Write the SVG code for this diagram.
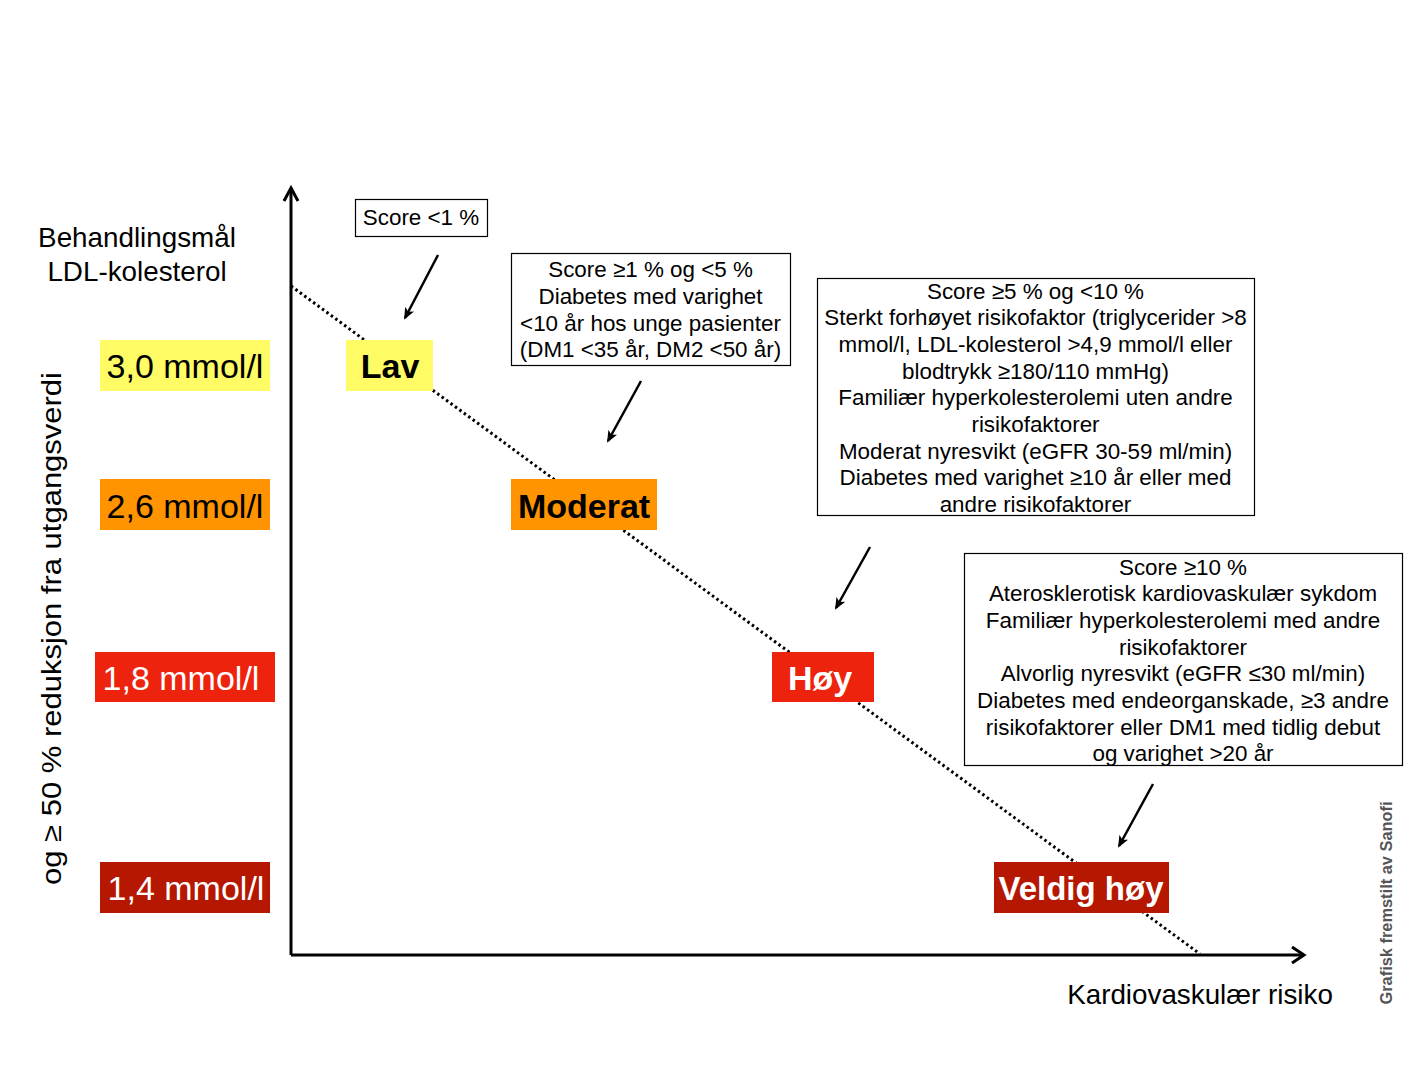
<svg xmlns="http://www.w3.org/2000/svg" width="1417" height="1065" viewBox="0 0 1417 1065">
<style>
text{font-family:"Liberation Sans",Arial,Helvetica,sans-serif;fill:#000}
.val{font-size:34px}
.lvl{font-size:34px;font-weight:bold}
.w{fill:#fff}
.box{fill:#fff;stroke:#000;stroke-width:1.2}
.bt{font-size:22.4px;text-anchor:middle}
.ax{stroke:#000;stroke-width:3;fill:none}
.arr{stroke:#000;stroke-width:2.5;fill:none;marker-end:url(#ah)}
.yel{fill:#FFFB64}.ora{fill:#FF9300}.red{fill:#EE230E}.dred{fill:#B51700}
</style>
<defs>
<marker id="ah" viewBox="0 0 12 10" refX="10" refY="5" markerWidth="12" markerHeight="10" markerUnits="userSpaceOnUse" orient="auto">
<path d="M0,0 L12,5 L0,10 L3,5 Z" fill="#000"/>
</marker>
</defs>
<rect width="1417" height="1065" fill="#fff"/>

<g id="connectors">
<line x1="291" y1="286" x2="1200" y2="954" stroke="#000" stroke-width="3" stroke-dasharray="2.5 3"/>
<polyline class="ax" points="291,955 291,188"/>
<polyline class="ax" points="284,201 291,188 298,201"/>
<polyline class="ax" points="291,955 1304,955"/>
<polyline class="ax" points="1292,947 1304,955 1292,963"/>
<line class="arr" x1="438" y1="255" x2="405" y2="318"/>
<line class="arr" x1="641" y1="381" x2="608" y2="441"/>
<line class="arr" x1="870" y1="547" x2="836" y2="608"/>
<line class="arr" x1="1153" y1="784" x2="1119" y2="846"/>
</g>

<g id="axis-labels">
<text x="137" y="247" font-size="27.8" text-anchor="middle">Behandlingsmål</text>
<text x="137" y="281" font-size="27.8" text-anchor="middle">LDL-kolesterol</text>
<text transform="translate(61,628.5) rotate(-90)" font-size="27" text-anchor="middle" textLength="513" lengthAdjust="spacingAndGlyphs">og ≥ 50 % reduksjon fra utgangsverdi</text>
<text x="1200" y="1004" font-size="27.8" text-anchor="middle">Kardiovaskulær risiko</text>
<text transform="translate(1392,903) rotate(-90)" font-size="16.4" font-weight="bold" text-anchor="middle" style="fill:#555">Grafisk fremstilt av Sanofi</text>
</g>

<g id="val-30"><rect class="yel" x="100" y="340" width="170" height="51"/><text class="val" x="185" y="378" text-anchor="middle">3,0 mmol/l</text></g>
<g id="val-26"><rect class="ora" x="100" y="479" width="170" height="51"/><text class="val" x="185" y="518" text-anchor="middle">2,6 mmol/l</text></g>
<g id="val-18"><rect class="red" x="95" y="652" width="180" height="50"/><text class="val w" x="181" y="690" text-anchor="middle">1,8 mmol/l</text></g>
<g id="val-14"><rect class="dred" x="100" y="862" width="170" height="51"/><text class="val w" x="186" y="900" text-anchor="middle">1,4 mmol/l</text></g>

<g id="lvl-lav"><rect class="yel" x="346" y="340" width="87" height="51"/><text class="lvl" x="390" y="378" text-anchor="middle">Lav</text></g>
<g id="lvl-moderat"><rect class="ora" x="511" y="479" width="146" height="51"/><text class="lvl" x="584" y="518" text-anchor="middle">Moderat</text></g>
<g id="lvl-hoy"><rect class="red" x="772" y="652" width="102" height="50"/><text class="lvl w" x="788" y="690">Høy</text></g>
<g id="lvl-veldighoy"><rect class="dred" x="994" y="862" width="175" height="51"/><text class="lvl w" x="1081" y="900" text-anchor="middle" style="font-size:33px">Veldig høy</text></g>

<g id="box-lav"><rect class="box" x="355.5" y="199.5" width="132" height="37"/><text class="bt" x="421" y="225">Score &lt;1 %</text></g>

<g id="box-moderat"><rect class="box" x="511.5" y="253.5" width="279" height="112"/>
<text class="bt" x="650.5" y="277">Score ≥1 % og &lt;5 %</text>
<text class="bt" x="650.5" y="304">Diabetes med varighet</text>
<text class="bt" x="650.5" y="331">&lt;10 år hos unge pasienter</text>
<text class="bt" x="650.5" y="357">(DM1 &lt;35 år, DM2 &lt;50 år)</text>
</g>

<g id="box-hoy"><rect class="box" x="817.5" y="278.5" width="437" height="237"/>
<text class="bt" x="1035.5" y="299">Score ≥5 % og &lt;10 %</text>
<text class="bt" x="1035.5" y="325">Sterkt forhøyet risikofaktor (triglycerider &gt;8</text>
<text class="bt" x="1035.5" y="352">mmol/l, LDL-kolesterol &gt;4,9 mmol/l eller</text>
<text class="bt" x="1035.5" y="379">blodtrykk ≥180/110 mmHg)</text>
<text class="bt" x="1035.5" y="405">Familiær hyperkolesterolemi uten andre</text>
<text class="bt" x="1035.5" y="432">risikofaktorer</text>
<text class="bt" x="1035.5" y="459">Moderat nyresvikt (eGFR 30-59 ml/min)</text>
<text class="bt" x="1035.5" y="485">Diabetes med varighet ≥10 år eller med</text>
<text class="bt" x="1035.5" y="512">andre risikofaktorer</text>
</g>

<g id="box-veldighoy"><rect class="box" x="964.5" y="553.5" width="438" height="212"/>
<text class="bt" x="1183" y="575">Score ≥10 %</text>
<text class="bt" x="1183" y="601">Aterosklerotisk kardiovaskulær sykdom</text>
<text class="bt" x="1183" y="628">Familiær hyperkolesterolemi med andre</text>
<text class="bt" x="1183" y="655">risikofaktorer</text>
<text class="bt" x="1183" y="681">Alvorlig nyresvikt (eGFR ≤30 ml/min)</text>
<text class="bt" x="1183" y="708">Diabetes med endeorganskade, ≥3 andre</text>
<text class="bt" x="1183" y="735">risikofaktorer eller DM1 med tidlig debut</text>
<text class="bt" x="1183" y="761">og varighet &gt;20 år</text>
</g>
</svg>
